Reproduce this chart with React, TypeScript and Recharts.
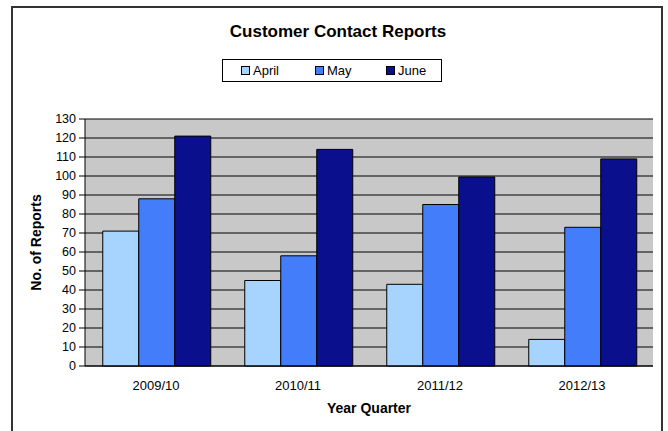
import React from 'react';
import { BarChart, Bar, XAxis, YAxis, CartesianGrid, Label } from 'recharts';

const categories = ['2009/10', '2010/11', '2011/12', '2012/13'];
const april = [71, 45, 43, 14];
const may = [88, 58, 85, 73];
const june = [121, 114, 99.5, 109];
const yTicks = [0, 10, 20, 30, 40, 50, 60, 70, 80, 90, 100, 110, 120, 130];
const boundaryTicks = [0, 1, 2, 3, 4];

const seriesNames = ['April', 'May', 'June'];
const colors = ['#A6D4FF', '#437DFA', '#0A0F8E'];

const data = categories.map((c, i) => ({ cat: c, April: april[i], May: may[i], June: june[i] }));

const FONT = '"Liberation Sans", Arial, sans-serif';

const LegendBox = () => (
  <div
    style={{
      position: 'absolute',
      left: 222,
      top: 59,
      width: 220,
      height: 23,
      border: '1px solid #000',
      background: '#fff',
      fontFamily: FONT,
      fontSize: 13,
      boxSizing: 'border-box',
    }}
  >
    {seriesNames.map((n, i) => (
      <div key={n} style={{ position: 'absolute', left: [18, 92, 163][i], top: 3, display: 'flex', alignItems: 'center' }}>
        <span style={{ display: 'inline-block', width: 7, height: 7, background: colors[i], border: '1px solid #000', marginRight: 3 }} />
        <span>{n}</span>
      </div>
    ))}
  </div>
);

export default function App() {
  return (
    <div style={{ position: 'absolute', left: 0, top: 0, width: 668, height: 431, background: '#fff', fontFamily: FONT, overflow: 'hidden' }}>
      <div
        style={{
          position: 'absolute',
          left: 11,
          top: 6,
          width: 652,
          height: 440,
          border: '2px solid #333',
          boxSizing: 'border-box',
        }}
      />
      <div
        style={{
          position: 'absolute',
          left: 4,
          width: 668,
          top: 22,
          textAlign: 'center',
          fontWeight: 'bold',
          fontSize: 17,
          fontFamily: FONT,
        }}
      >
        Customer Contact Reports
      </div>
      <LegendBox />
      <div style={{ position: 'absolute', left: 0, top: 0 }}>
        <BarChart
          width={668}
          height={431}
          data={data}
          margin={{ top: 119, right: 15, bottom: 18, left: 0 }}
          barCategoryGap="12.5%"
          barGap={0}
        >
          <CartesianGrid vertical={false} stroke="#000" strokeWidth={1} fill="#C8C8C8" fillOpacity={1} />
          <XAxis
            xAxisId="b"
            type="number"
            domain={[0, 4]}
            ticks={boundaryTicks}
            tickFormatter={() => ''}
            axisLine={false}
            tickLine={{ stroke: '#000' }}
            tickSize={6}
            height={0}
            allowDataOverflow
          />
          <XAxis
            dataKey="cat"
            tickLine={false}
            axisLine={{ stroke: '#000' }}
            tick={{ fill: '#000', fontSize: 13, fontFamily: FONT }}
            tickMargin={9}
            height={47}
          >
            <Label value="Year Quarter" position="insideBottom" offset={0} style={{ fontWeight: 'bold', fontSize: 14, fill: '#000', fontFamily: FONT }} />
          </XAxis>
          <YAxis
            domain={[0, 130]}
            ticks={yTicks}
            interval={0}
            width={85}
            tickSize={6}
            tickMargin={3}
            axisLine={{ stroke: '#000' }}
            tickLine={{ stroke: '#000' }}
            tick={{ fill: '#000', fontSize: 12.5, fontFamily: FONT }}
          >
            <Label value="No. of Reports" angle={-90} position="center" dx={-6} style={{ fontWeight: 'bold', fontSize: 14, fill: '#000', fontFamily: FONT, textAnchor: 'middle' }} />
          </YAxis>
          {seriesNames.map((n, i) => (
            <Bar key={n} dataKey={n} fill={colors[i]} stroke="#000" strokeWidth={1} isAnimationActive={false} />
          ))}
        </BarChart>
      </div>
    </div>
  );
}
